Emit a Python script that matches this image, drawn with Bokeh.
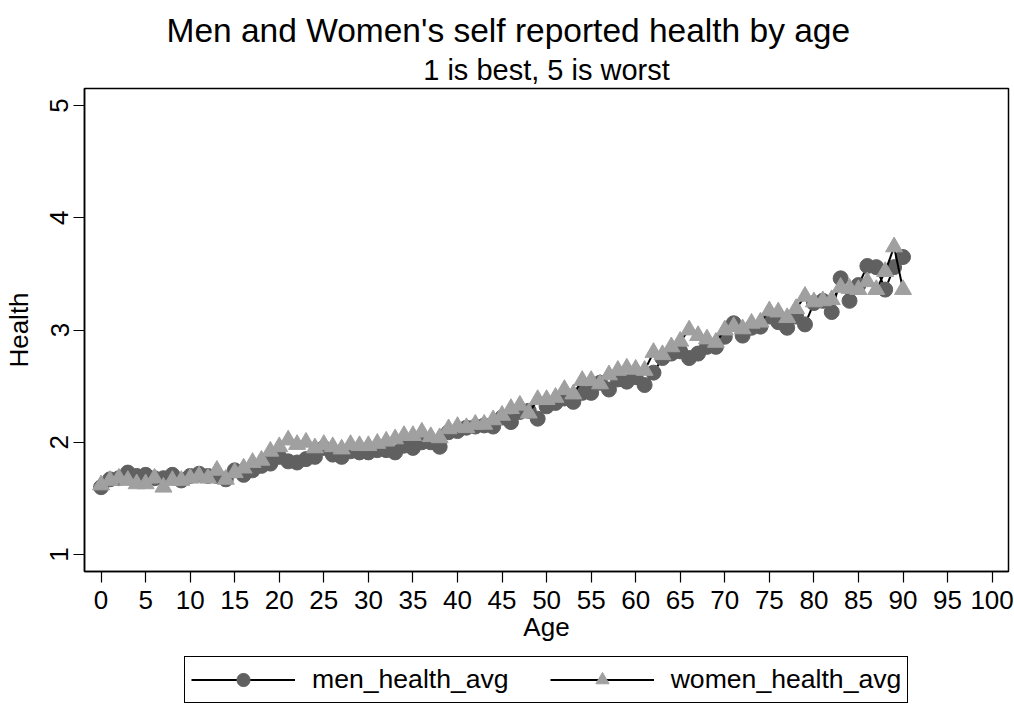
from bokeh.plotting import figure
from bokeh.layouts import column
from bokeh.models import Range1d, FixedTicker, Legend, LegendItem, Title
from bokeh.embed import file_html
from bokeh.resources import INLINE

ages = list(range(91))
men_health_avg = [
    1.60, 1.67, 1.68, 1.73, 1.70, 1.71, 1.68, 1.68, 1.71, 1.66,
    1.70, 1.72, 1.70, 1.70, 1.67, 1.75, 1.71, 1.75, 1.79, 1.81,
    1.87, 1.83, 1.82, 1.85, 1.87, 1.95, 1.89, 1.87, 1.92, 1.91,
    1.91, 1.93, 1.93, 1.91, 1.97, 1.95, 2.00, 2.00, 1.96, 2.09,
    2.10, 2.13, 2.14, 2.15, 2.14, 2.22, 2.18, 2.27, 2.28, 2.21,
    2.32, 2.35, 2.39, 2.36, 2.44, 2.44, 2.53, 2.47, 2.56, 2.54,
    2.58, 2.51, 2.62, 2.75, 2.79, 2.81, 2.75, 2.79, 2.85, 2.85,
    2.94, 3.06, 2.95, 3.02, 3.03, 3.12, 3.07, 3.02, 3.12, 3.05,
    3.24, 3.26, 3.16, 3.46, 3.26, 3.40, 3.57, 3.56, 3.36, 3.56, 3.65,
]
women_health_avg = [
    1.62, 1.66, 1.68, 1.66, 1.63, 1.63, 1.68, 1.60, 1.66, 1.66,
    1.68, 1.70, 1.68, 1.75, 1.67, 1.73, 1.77, 1.82, 1.84, 1.92,
    1.96, 2.02, 1.98, 2.00, 1.95, 1.98, 1.96, 1.94, 1.98, 1.97,
    1.97, 1.99, 2.01, 2.03, 2.06, 2.06, 2.09, 2.05, 2.04, 2.12,
    2.14, 2.13, 2.16, 2.16, 2.20, 2.24, 2.30, 2.33, 2.26, 2.38,
    2.38, 2.40, 2.47, 2.43, 2.55, 2.55, 2.52, 2.60, 2.64, 2.66,
    2.65, 2.64, 2.80, 2.78, 2.85, 2.90, 3.00, 2.95, 2.92, 2.89,
    3.00, 3.03, 3.01, 3.06, 3.07, 3.17, 3.16, 3.11, 3.19, 3.30,
    3.25, 3.26, 3.27, 3.38, 3.37, 3.36, 3.43, 3.36, 3.52, 3.74, 3.36,
]
x_ticks = list(range(0, 101, 5))
y_ticks = [1, 2, 3, 4, 5]
series_labels = ["men_health_avg", "women_health_avg"]
title_text = "Men and Women's self reported health by age"
subtitle_text = "1 is best, 5 is worst"

FONT = "Liberation Sans"
MEN_COLOR = "#606060"
WOMEN_COLOR = "#a0a0a0"


def add_series(fig):
    r1l = fig.line(ages, men_health_avg, line_color="black", line_width=2)
    r1s = fig.scatter(ages, men_health_avg, marker="circle", size=15,
                      fill_color=MEN_COLOR, line_color=MEN_COLOR)
    r2l = fig.line(ages, women_health_avg, line_color="black", line_width=2)
    r2s = fig.scatter(ages, women_health_avg, marker="triangle", size=17,
                      fill_color=WOMEN_COLOR, line_color=WOMEN_COLOR)
    return r1l, r1s, r2l, r2s


# ---------------- main plot ----------------
p = figure(frame_width=924, frame_height=483, output_backend="svg",
           toolbar_location=None,
           x_range=Range1d(-1.86, 101.84), y_range=Range1d(0.849, 5.151),
           min_border_left=82, min_border_right=8, min_border_top=88,
           min_border_bottom=79, background_fill_color="white",
           border_fill_color="white")
p.title.text = ""
p.grid.visible = False
p.outline_line_color = "black"
p.outline_line_width = 1.5
add_series(p)

for ax in (p.xaxis[0], p.yaxis[0]):
    ax.major_tick_out = 11
    ax.major_tick_in = 0
    ax.minor_tick_out = 0
    ax.minor_tick_in = 0
    ax.major_tick_line_color = "black"
    ax.major_tick_line_width = 1.2
    ax.axis_line_color = "black"
    ax.axis_line_width = 1.5
    ax.major_label_text_font = FONT
    ax.major_label_text_font_size = "26px"
    ax.major_label_text_color = "black"
    ax.axis_label_text_font = FONT
    ax.axis_label_text_font_size = "26px"
    ax.axis_label_text_font_style = "normal"
    ax.axis_label_text_color = "black"

p.xaxis.ticker = FixedTicker(ticks=x_ticks)
p.xaxis.axis_label = "Age"
p.xaxis.major_label_standoff = 8
p.xaxis.axis_label_standoff = 0

p.yaxis.ticker = FixedTicker(ticks=y_ticks)
p.yaxis.axis_label = "Health"
p.yaxis.major_label_orientation = "vertical"
p.yaxis.major_label_standoff = 5
p.yaxis.axis_label_standoff = 14

sub = Title(text=subtitle_text, align="center", text_font=FONT,
            text_font_size="29px", text_font_style="normal",
            text_color="black", standoff=5)
p.add_layout(sub, "above")
main = Title(text=title_text, align="left", offset=82, text_font=FONT,
             text_font_size="33.5px", text_font_style="normal",
             text_color="black", standoff=2)
p.add_layout(main, "above")

# ------- legend strip (same frame geometry; the series lie outside its view) -------
leg = figure(frame_width=924, frame_height=54, output_backend="svg",
             toolbar_location=None, x_axis_location=None,
             y_axis_location=None,
             min_border_left=82, min_border_right=8, min_border_top=0,
             min_border_bottom=0,
             x_range=Range1d(0, 1), y_range=Range1d(50, 51),
             background_fill_color="white", border_fill_color="white")
leg.title.text = ""
leg.grid.visible = False
leg.outline_line_color = None
k1l, k1s, k2l, k2s = add_series(leg)

legend = Legend(items=[
    LegendItem(label=series_labels[0], renderers=[k1l, k1s]),
    LegendItem(label=series_labels[1], renderers=[k2l, k2s]),
], orientation="horizontal", location=(100, 1),
    label_text_font=FONT, label_text_font_size="26.6px",
    label_text_color="black",
    glyph_width=104, glyph_height=33, label_standoff=17, spacing=41,
    padding=6, margin=0, border_line_color="black", border_line_width=1,
    border_line_alpha=1.0,
    background_fill_color="white", background_fill_alpha=1.0)
leg.add_layout(legend)

layout = column(p, leg, spacing=0)
open("out.html", "w").write(file_html(layout, INLINE))
